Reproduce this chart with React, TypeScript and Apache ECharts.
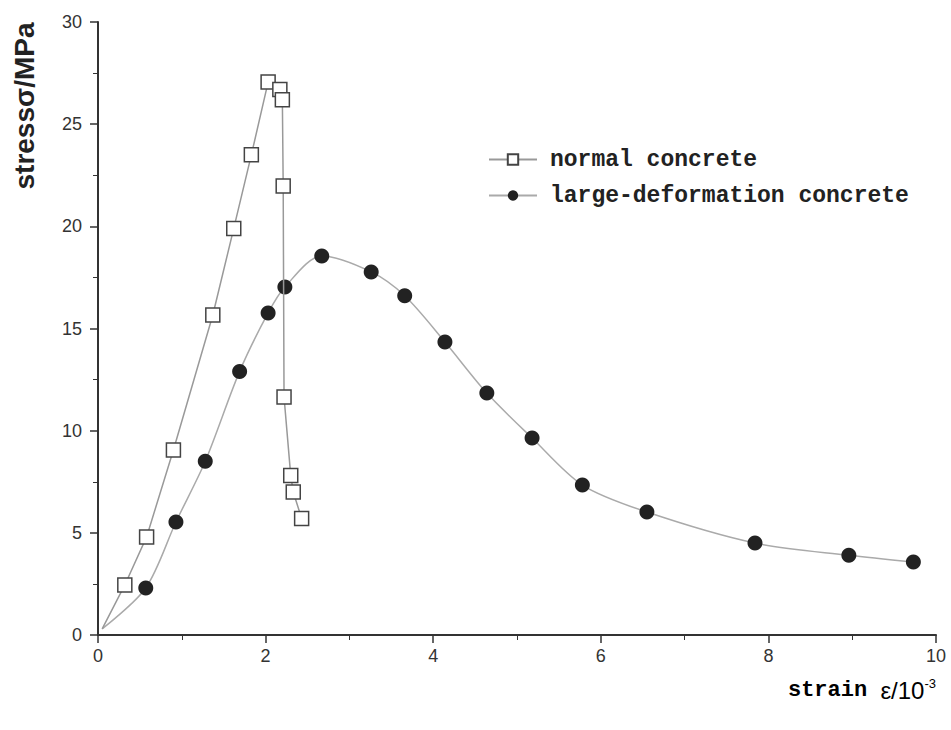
import React, { useEffect, useRef } from "react";
import * as echarts from "echarts";

const normalStrain = [0.05, 0.32, 0.58, 0.9, 1.37, 1.62, 1.83, 2.03, 2.17, 2.2, 2.21, 2.22, 2.3, 2.33, 2.43];
const normalStress = [0.3, 2.45, 4.8, 9.05, 15.66, 19.9, 23.5, 27.06, 26.7, 26.2, 21.97, 11.65, 7.8, 7.0, 5.7];

const largeStrain = [0.05, 0.57, 0.93, 1.28, 1.69, 2.03, 2.23, 2.67, 3.26, 3.66, 4.14, 4.64, 5.18, 5.78, 6.55, 7.84, 8.96, 9.73];
const largeStress = [0.3, 2.3, 5.53, 8.5, 12.9, 15.76, 17.03, 18.55, 17.77, 16.6, 14.34, 11.84, 9.64, 7.34, 6.02, 4.5, 3.9, 3.57];

const xTicks = [0, 2, 4, 6, 8, 10];
const yTicks = [0, 5, 10, 15, 20, 25, 30];

const seriesNames = ["normal concrete", "large-deformation concrete"];

export default function App() {
  const ref = useRef<HTMLDivElement>(null);
  useEffect(() => {
    if (!ref.current) return;
    const chart = echarts.init(ref.current, undefined, { renderer: "svg" });
    const mk = (xs: number[], ys: number[]) =>
      xs.map((x, i) => (i === 0 ? { value: [x, ys[i]], symbol: "none" } : [x, ys[i]]));
    const axisColor = "#333";
    chart.setOption({
      animation: false,
      backgroundColor: "#fff",
      grid: { left: 98, right: 15, top: 22, bottom: 95 },
      legend: {
        orient: "vertical",
        left: 483,
        top: 143,
        itemGap: 13,
        itemWidth: 48,
        itemHeight: 13,
        data: seriesNames,
        textStyle: { fontFamily: "Liberation Mono", fontSize: 23, fontWeight: "bold", color: "#222", padding: [0, 0, 0, 8] },
      },
      xAxis: {
        type: "value",
        min: xTicks[0],
        max: xTicks[xTicks.length - 1],
        interval: 2,
        axisLine: { onZero: false, lineStyle: { color: axisColor, width: 2 } },
        axisTick: { show: true, length: 8, inside: false, lineStyle: { color: axisColor, width: 1.5 } },
        minorTick: { show: true, splitNumber: 2, length: 5, lineStyle: { color: axisColor } },
        splitLine: { show: false },
        axisLabel: { fontFamily: "Liberation Sans", fontSize: 18, color: "#333", margin: 12 },
      },
      yAxis: {
        type: "value",
        min: yTicks[0],
        max: yTicks[yTicks.length - 1],
        interval: 5,
        axisLine: { onZero: false, lineStyle: { color: axisColor, width: 2 } },
        axisTick: { show: true, length: 8, lineStyle: { color: axisColor, width: 1.5 } },
        minorTick: { show: true, splitNumber: 2, length: 5, lineStyle: { color: axisColor } },
        splitLine: { show: false },
        axisLabel: { fontFamily: "Liberation Sans", fontSize: 18, color: "#333", margin: 16 },
      },
      graphic: [
        {
          type: "text",
          x: 24,
          y: 106,
          rotation: Math.PI / 2,
          style: {
            text: "stressσ/MPa",
            font: "bold 28px 'Liberation Sans'",
            fill: "#222",
            textAlign: "center",
            textVerticalAlign: "middle",
          },
        },
        {
          type: "text",
          x: 936,
          y: 690,
          style: {
            text: "{a|strain }{b|ε/10}{c|-3}",
            rich: {
              a: { fontFamily: "Liberation Mono", fontSize: 22, fontWeight: "bold", color: "#222" },
              b: { fontFamily: "Liberation Sans", fontSize: 24, color: "#222" },
              c: { fontFamily: "Liberation Sans", fontSize: 13, color: "#222", verticalAlign: "top", padding: [0, 0, 14, 0] },
            },
            textAlign: "right",
            textVerticalAlign: "middle",
          },
        },
      ],
      series: [
        {
          name: seriesNames[0],
          type: "line",
          data: mk(normalStrain, normalStress),
          symbol: "rect",
          symbolSize: 14,
          itemStyle: { color: "#fff", borderColor: "#444", borderWidth: 1.5 },
          lineStyle: { color: "#999", width: 1.5 },
          z: 3,
        },
        {
          name: seriesNames[1],
          type: "line",
          data: mk(largeStrain, largeStress),
          smooth: 0.3,
          symbol: "circle",
          symbolSize: 15,
          itemStyle: { color: "#222", borderColor: "#222", borderWidth: 0 },
          lineStyle: { color: "#aaa", width: 1.5 },
          z: 2,
        },
      ],
    });
    return () => chart.dispose();
  }, []);
  return <div ref={ref} style={{ position: "absolute", left: 0, top: 0, width: 951, height: 730 }} />;
}
